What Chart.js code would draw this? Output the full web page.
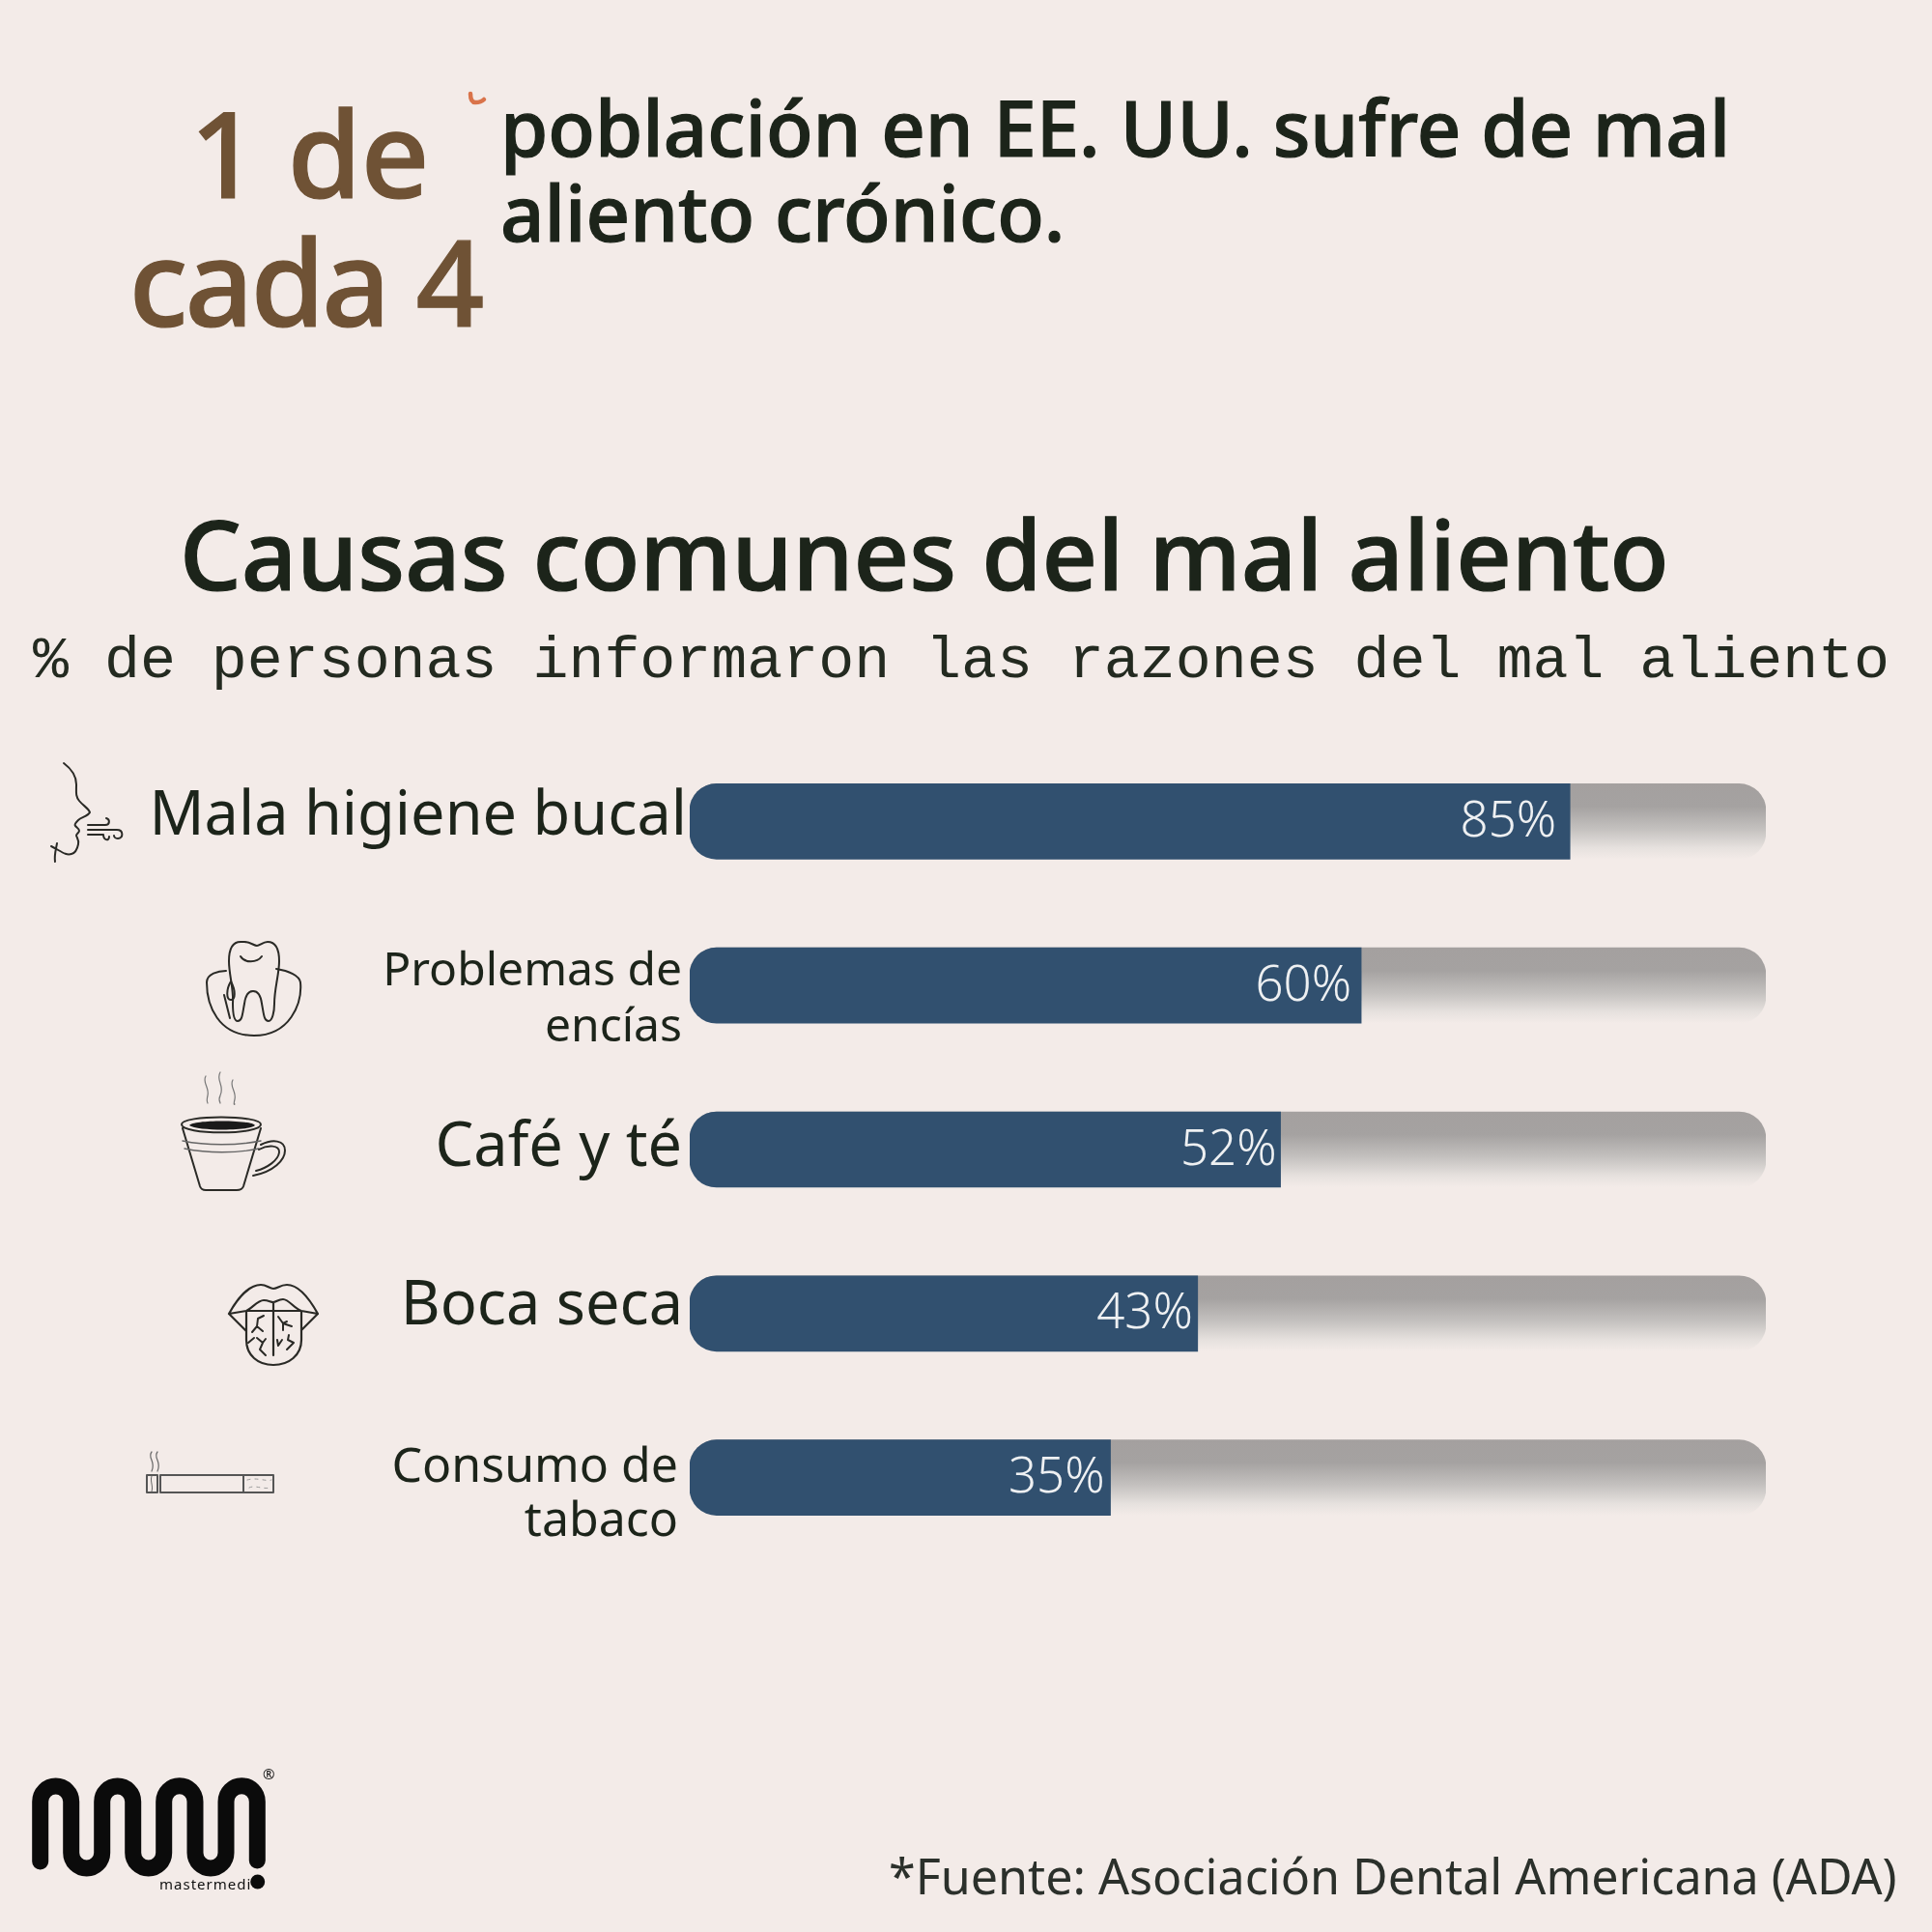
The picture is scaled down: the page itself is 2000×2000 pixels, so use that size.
<!DOCTYPE html>
<html>
<head>
<meta charset="utf-8">
<script src="https://cdn.jsdelivr.net/npm/chart.js@4"></script>
<style>
  html, body { margin: 0; padding: 0; background: #f3ebe8; }
  #page { position: relative; width: 2000px; height: 2000px; overflow: hidden; font-family: "Noto Sans", sans-serif; color: #1c241a; }
  #myChart { position: absolute; left: 0; top: 0; }
  .txt { position: absolute; white-space: pre; }
  .head { font-weight: 500; -webkit-text-stroke: 1.2px currentColor; }
  svg.icon { position: absolute; left: 0; top: 0; fill: none; stroke: #2a2a26; stroke-linecap: round; stroke-linejoin: round; }
</style>
</head>
<body>
<div id="page">
  <canvas id="myChart" width="2000" height="2000"></canvas>

  <div class="txt head" style="left:0;width:632px;top:90px;text-align:center;font-size:124px;line-height:133px;letter-spacing:-3px;color:#6f5235"><span style="letter-spacing:-1px;margin-left:8px">1 de</span>
cada 4</div>
  <div class="txt head" style="left:518px;top:87px;font-size:79.6px;line-height:88px">población en EE. UU. sufre de mal
aliento crónico.</div>
  <div class="txt head" style="left:186px;top:502px;font-size:100.5px;line-height:140px">Causas comunes del mal aliento</div>
  <div class="txt" style="left:34px;top:647px;font-family:'Liberation Mono';font-size:61.6px;line-height:76px;color:#232a20">% de personas informaron las razones del mal aliento</div>
  <div class="txt" style="left:920px;top:1906px;font-size:50.2px;line-height:72px;color:#2b302b">*Fuente: Asociación Dental Americana (ADA)</div>
  <div class="txt" style="left:165px;top:1941px;font-size:15px;line-height:18px;letter-spacing:1px;color:#111">mastermedi</div>
  <div class="txt" style="left:272px;top:1827px;font-size:15px;line-height:18px;color:#111">®</div>

  <!-- icons and logo, hand traced -->
  <svg class="icon" width="2000" height="2000" viewBox="0 0 2000 2000">
    <!-- face -->
    <path stroke-width="2" d="M66 790c8 6 13 13 13 22c0 8-1 12 3 17c4 5 10 8 11 12c-2 4-9 5-12 8c-3 3-4 5-3 6c2 2 4 3 4 5c0 2-3 3-3 5c1 3 3 5 2 9c-1 5-3 9-7 10c-6 2-11-3-21-8M59 873c-1 6-3 12-2 19"></path>
    <path stroke-width="2" d="M91 854h18c5 0 5-6 1-7M91 859h30c7 0 7 9 1 9c-3 0-4-2-4-3M91 864h16c0 6 6 7 6 2"></path>
    <!-- tooth -->
    <path stroke-width="2" d="M249 975c-7 0-12 6-12 20c0 14 5 28 4 44c0 8 1 18 5 18c5 0 5-8 7-18c1-8 4-13 9-13c5 0 8 5 9 13c2 10 2 18 7 18c4 0 6-10 6-18c0-16 5-30 5-44c0-14-5-20-12-20c-5 0-8 4-11 4c-3 0-7-4-13-4z"></path>
    <path stroke-width="2" d="M249 990c4 7 17 7 22 0M234 1005c-8 0-20 3-20 12c0 24 12 55 49 55c37 0 50-33 48-55c-1-7-12-12-25-14"></path>
    <path stroke-width="2" d="M239 1016c-5 8-5 19 0 19c5 0 5-10 0-19zM232 1030l6 24"></path>
    <!-- cup -->
    <path stroke-width="1.2" stroke="#777" d="M213 1114c-4 6 4 12 2 20c-1 4-1 6 0 8M228 1110c-5 8 5 14 0 24c-2 4-1 6 0 8M241 1118c-4 6 4 12 2 20c-1 4-1 6 0 5"></path>
    <path stroke-width="2" d="M188 1164c0-10 82-10 82 0c0 11-82 11-82 0zM189 1168l18 60c1 3 3 4 6 4h32c4 0 6-1 7-4l18-60"></path>
    <path fill="#1a1a1a" stroke="none" d="M196 1165c3-6 64-6 68 0c-6 6-60 6-68 0z"></path>
    <path stroke-width="1.4" stroke="#666" d="M189 1181c24 5 56 5 81 0M191 1189c24 5 54 5 77 0"></path>
    <path stroke-width="2" d="M270 1185c12-6 25-5 25 6c0 10-12 22-33 26M268 1190c9-5 22-5 21 3c-1 8-12 16-24 19"></path>
    <!-- tongue -->
    <path stroke-width="2.2" d="M237 1360c10-18 22-30 33-30c6 0 9 4 13 4c4 0 7-4 14-4c11 0 22 12 32 30l-17 17M237 1360l18 18M237 1360l18-3c6-3 12-11 18-11c5 0 7 2 10 2c3 0 5-3 10-3c6 0 12 10 19 12l17 3M255 1357h57M255 1357v30c0 16 12 26 28 26c16 0 29-10 29-26v-30M283 1348v55"></path>
    <path stroke-width="2" d="M273 1362l-6 3l-1 8l-5 6M266 1373l6 5M266 1385l6 5l3-4M272 1390l-3 7l6 6M257 1390l6-5M288 1363l5 7l9 3M293 1370l4-2M293 1370v7M287 1387l1 6l4-6M299 1382l-1 5l6 3l-7 7"></path>
    <!-- cigarette -->
    <path stroke-width="1.2" stroke="#666" d="M157 1503c-5 6 5 10 0 20M163 1503c-5 6 5 10 0 20"></path>
    <path stroke-width="2" stroke="#555" d="M152 1527h11v18h-11zM166 1527h86v18h-86zM252 1527h31v18h-31z"></path>
    <path stroke-width="1" stroke="#999" stroke-dasharray="3 5" d="M256 1532c10-3 20 2 25 0M258 1540c6-3 14 2 22 0"></path>
    <path stroke-width="1" stroke="#666" d="M157 1528c-2 6 2 10 0 16"></path>

    <!-- logo -->
    <path stroke="#0b0b0b" stroke-width="17" d="M41.7 1927V1865A16 16 0 0 1 73.7 1865V1918A16 16 0 0 0 105.7 1918V1865A16 16 0 0 1 137.7 1865V1918A16 16 0 0 0 169.7 1918V1865A16 16 0 0 1 202 1865V1918A16 16 0 0 0 234 1918V1865A16 16 0 0 1 266.3 1865V1926"></path>
    <circle cx="266.7" cy="1948" r="7.5" fill="#0b0b0b" stroke="none"></circle>

    <path stroke="#d9734a" stroke-width="4.5" d="M487 97c0 5 1 9 5 9c4 0 7-1 9-3"></path>
  </svg>
</div>

<script>
const categories = [["Mala higiene bucal"], ["Problemas de", "encías"], ["Café y té"], ["Boca seca"], ["Consumo de", "tabaco"]];
const valueLabels = ["85%", "60%", "52%", "43%", "35%"];
// bar lengths as drawn in the picture, in % of the grey track. the printed
// percentages above do not match the drawn lengths so they are kept apart
const barLengths = [81.8, 62.4, 54.9, 47.2, 39.1];
const trackValues = [100, 100, 100, 100, 100];

const labelSizes = [63, 48, 63, 63, 50];
const labelLines = [1.2, 1.22, 1.2, 1.2, 1.13];
const labelShiftX = [5, 0, 0, 1, -4];
const labelShiftY = [-4, 15, -1, -7, 18];
const valueInset = [14, 10, 4, 5, 6];

const BG = '#f3ebe8';

// fades the grey track out towards its bottom edge
function trackFill(c) {
  const chart = c.chart;
  const yScale = chart.scales.y;
  const yc = yScale && c.dataIndex !== undefined ? yScale.getPixelForValue(c.dataIndex) : NaN;
  if (!isFinite(yc)) return '#a4a09f';
  const g = chart.ctx.createLinearGradient(0, yc - 39, 0, yc + 39);
  g.addColorStop(0, '#a4a09f');
  g.addColorStop(0.3, '#a5a2a1');
  g.addColorStop(0.6, '#c4c1bf');
  g.addColorStop(0.85, '#e6e1de');
  g.addColorStop(1, BG);
  return g;
}

// moves the axis labels a bit, the rows in the picture are not centered on their bars
const shiftLabels = {
  id: 'shiftLabels',
  afterLayout(chart) {
    const items = chart.scales.y.getLabelItems(chart.chartArea);
    items.forEach((it, i) => {
      const t = it.options.translation;
      it.options.translation = [t[0] + labelShiftX[i], t[1] + labelShiftY[i]];
    });
  }
};

const valueText = {
  id: 'valueText',
  afterDatasetsDraw(chart) {
    const ctx = chart.ctx;
    const bars = chart.getDatasetMeta(0).data;
    ctx.save();
    ctx.font = '300 51px "Noto Sans"';
    ctx.fillStyle = '#eef0f2';
    ctx.textAlign = 'right';
    ctx.textBaseline = 'middle';
    bars.forEach((b, i) => ctx.fillText(valueLabels[i], b.x - valueInset[i], b.y + 1));
    ctx.restore();
  }
};

new Chart(document.getElementById('myChart'), {
  type: 'bar',
  data: {
    labels: categories,
    datasets: [
      {
        data: barLengths,
        backgroundColor: '#31506f',
        grouped: false,
        barThickness: 78,
        borderSkipped: false,
        borderRadius: { topLeft: 28, bottomLeft: 28, topRight: 0, bottomRight: 0 }
      },
      {
        data: trackValues,
        backgroundColor: trackFill,
        grouped: false,
        barThickness: 78,
        borderSkipped: false,
        borderRadius: 28
      }
    ]
  },
  options: {
    indexAxis: 'y',
    responsive: false,
    animation: false,
    layout: { padding: { top: 765.5, bottom: 385.5, left: 0, right: 172 } },
    plugins: { legend: { display: false }, tooltip: { enabled: false } },
    scales: {
      x: {
        min: 0,
        max: 100,
        display: false
      },
      y: {
        afterFit(scale) { scale.width = 714; },
        grid: { display: false },
        border: { display: false },
        ticks: {
          padding: 0,
          color: '#1c241a',
          font(c) {
            return { family: 'Noto Sans', size: labelSizes[c.index], lineHeight: labelLines[c.index] };
          }
        }
      }
    }
  },
  plugins: [shiftLabels, valueText]
});
</script>
</body>
</html>
